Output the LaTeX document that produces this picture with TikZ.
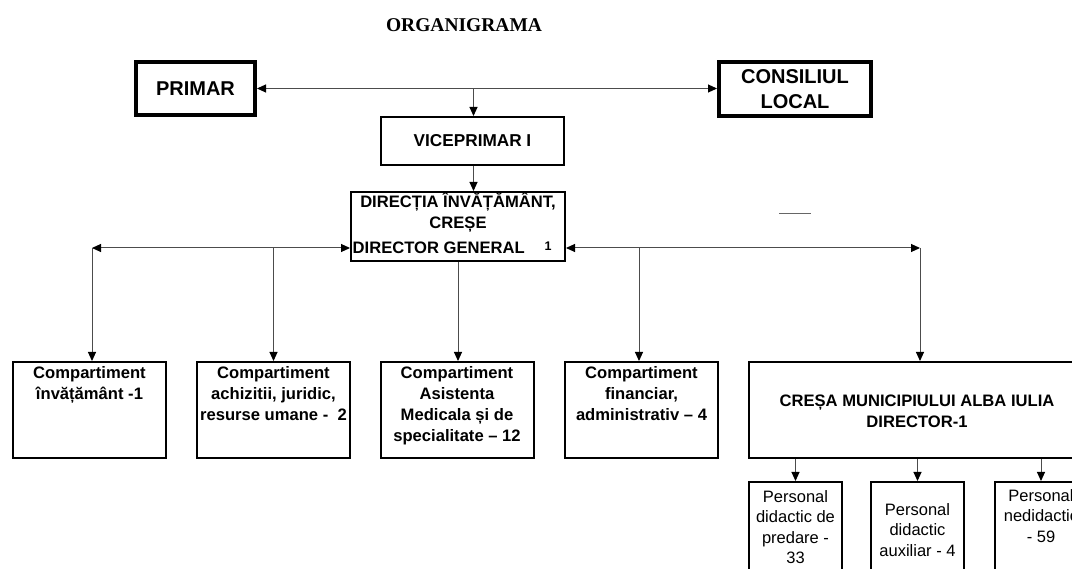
\documentclass[tikz,border=0pt]{standalone}
\usepackage{fontspec}
\setmainfont{Liberation Sans}
\newfontfamily\titlefont{Liberation Serif}
\usetikzlibrary{arrows.meta}
\tikzset{
  x=1pt, y=-1pt,
  thickbox/.style={draw=black, line width=4pt, inner sep=0pt},
  box/.style={draw=black, line width=2pt, inner sep=0pt},
  lbl/.style={inner sep=0pt, align=center, font=\bfseries\fontsize{16.6}{21}\selectfont},
  plbl/.style={inner sep=0pt, align=center, font=\fontsize{16.5}{20.5}\selectfont},
  conn/.style={draw=black!70, line width=1pt},
  tip/.style={-{Triangle[length=9pt,width=8pt,color=black]}},
  tips/.style={{Triangle[length=9pt,width=8pt,color=black]}-{Triangle[length=9pt,width=8pt,color=black]}}
}
\begin{document}
\begin{tikzpicture}
\useasboundingbox[fill=white] (0,0) rectangle (1072,569);
\begin{scope}
\clip (0,0) rectangle (1072,569);

% title
\node[inner sep=0pt, font=\titlefont\bfseries\fontsize{19.5}{22}\selectfont] (title) at (464,25) {ORGANIGRAMA};

% top boxes
\node[thickbox, minimum width=119pt, minimum height=53pt, font=\bfseries\fontsize{20}{25}\selectfont] (primar) at (195.5,88.5) {PRIMAR};
\node[thickbox, minimum width=152pt, minimum height=54pt, align=center, font=\bfseries\fontsize{20}{25}\selectfont] (consiliu) at (795,89) {CONSILIUL\\LOCAL};
\node[box, minimum width=183pt, minimum height=48pt, font=\bfseries\fontsize{17.2}{21}\selectfont] (vice) at (472.5,141) {VICEPRIMAR I};

% directia
\node[box, minimum width=214pt, minimum height=69pt] (dir) at (458,226.5) {};
\node[lbl, anchor=north] (dirt) at (458,192.5) {DIRECȚIA ÎNVĂȚĂMÂNT,\\CREȘE};
\node[lbl, anchor=west] (dirg) at (352.5,247.5) {DIRECTOR GENERAL};
\node[inner sep=0pt, font=\bfseries\fontsize{12.5}{14}\selectfont] (dirn) at (548,246.5) {1};

% stray mark
\coordinate (s1) at (779,214);
\coordinate (s2) at (811,214);
\draw[black!60, line width=1pt] (s1) -- (s2);

% compartments
\node[box, minimum width=153pt, minimum height=96pt] (c1) at (89.5,410) {};
\node[box, minimum width=153pt, minimum height=96pt] (c2) at (273.5,410) {};
\node[box, minimum width=153pt, minimum height=96pt] (c3) at (457,410) {};
\node[box, minimum width=153pt, minimum height=96pt] (c4) at (641.5,410) {};
\node[box, minimum width=338pt, minimum height=96pt] (cresa) at (918,410) {};

\node[lbl, anchor=north] (c1t) at (89.5,366.5) {Compartiment\\învățământ -1};
\node[lbl, anchor=north] (c2t) at (273.5,366.5) {Compartiment\\achizitii, juridic,\\resurse umane -\ \ 2};
\node[lbl, anchor=north] (c3t) at (457,366.5) {Compartiment\\Asistenta\\Medicala și de\\specialitate – 12};
\node[lbl, anchor=north] (c4t) at (641.5,366.5) {Compartiment\\financiar,\\administrativ – 4};
\node[lbl, font=\bfseries\fontsize{16.6}{21}\selectfont] (cresat) at (917,411) {CREȘA MUNICIPIULUI ALBA IULIA\\DIRECTOR-1};

% sub boxes
\node[box, minimum width=93pt, minimum height=118pt] (sa) at (795.5,541) {};
\node[box, minimum width=93pt, minimum height=118pt] (sb) at (917.5,541) {};
\node[box, minimum width=93pt, minimum height=118pt] (sc) at (1041,541) {};
\node[plbl, anchor=north] (sat) at (795.5,490) {Personal\\didactic de\\predare -\\33};
\node[plbl, anchor=north] (sbt) at (917.5,503) {Personal\\didactic\\auxiliar - 4};
\node[plbl, anchor=north] (sct) at (1041,489) {Personal\\nedidactic\\- 59};

% connectors
\draw[conn, tips] (primar.east) -- (primar.east -| consiliu.west);
\coordinate (vtop) at (473.5,89);
\draw[conn, tip] (vtop) -- (vtop |- vice.north);
\draw[conn, tip] (vice.south -| vtop) -- (vtop |- dir.north);

\coordinate (L) at (92,248);
\coordinate (L2) at (273.5,248);
\coordinate (R) at (920,248);
\coordinate (R2) at (639,248);
\draw[conn, tips] (L) -- (L -| dir.west);
\draw[conn, tips] (R -| dir.east) -- (R);
\draw[conn, tip] (L) -- (L |- c1.north);
\draw[conn, tip] (L2) -- (L2 |- c2.north);
\draw[conn, tip] (dir.south) -- (dir.south |- c3.north);
\draw[conn, tip] (R2) -- (R2 |- c4.north);
\draw[conn, tip] (R) -- (R |- cresa.north);

\draw[conn, tip] (sa.north |- cresa.south) -- (sa.north);
\draw[conn, tip] (sb.north |- cresa.south) -- (sb.north);
\draw[conn, tip] (sc.north |- cresa.south) -- (sc.north);
\end{scope}
\end{tikzpicture}
\end{document}
